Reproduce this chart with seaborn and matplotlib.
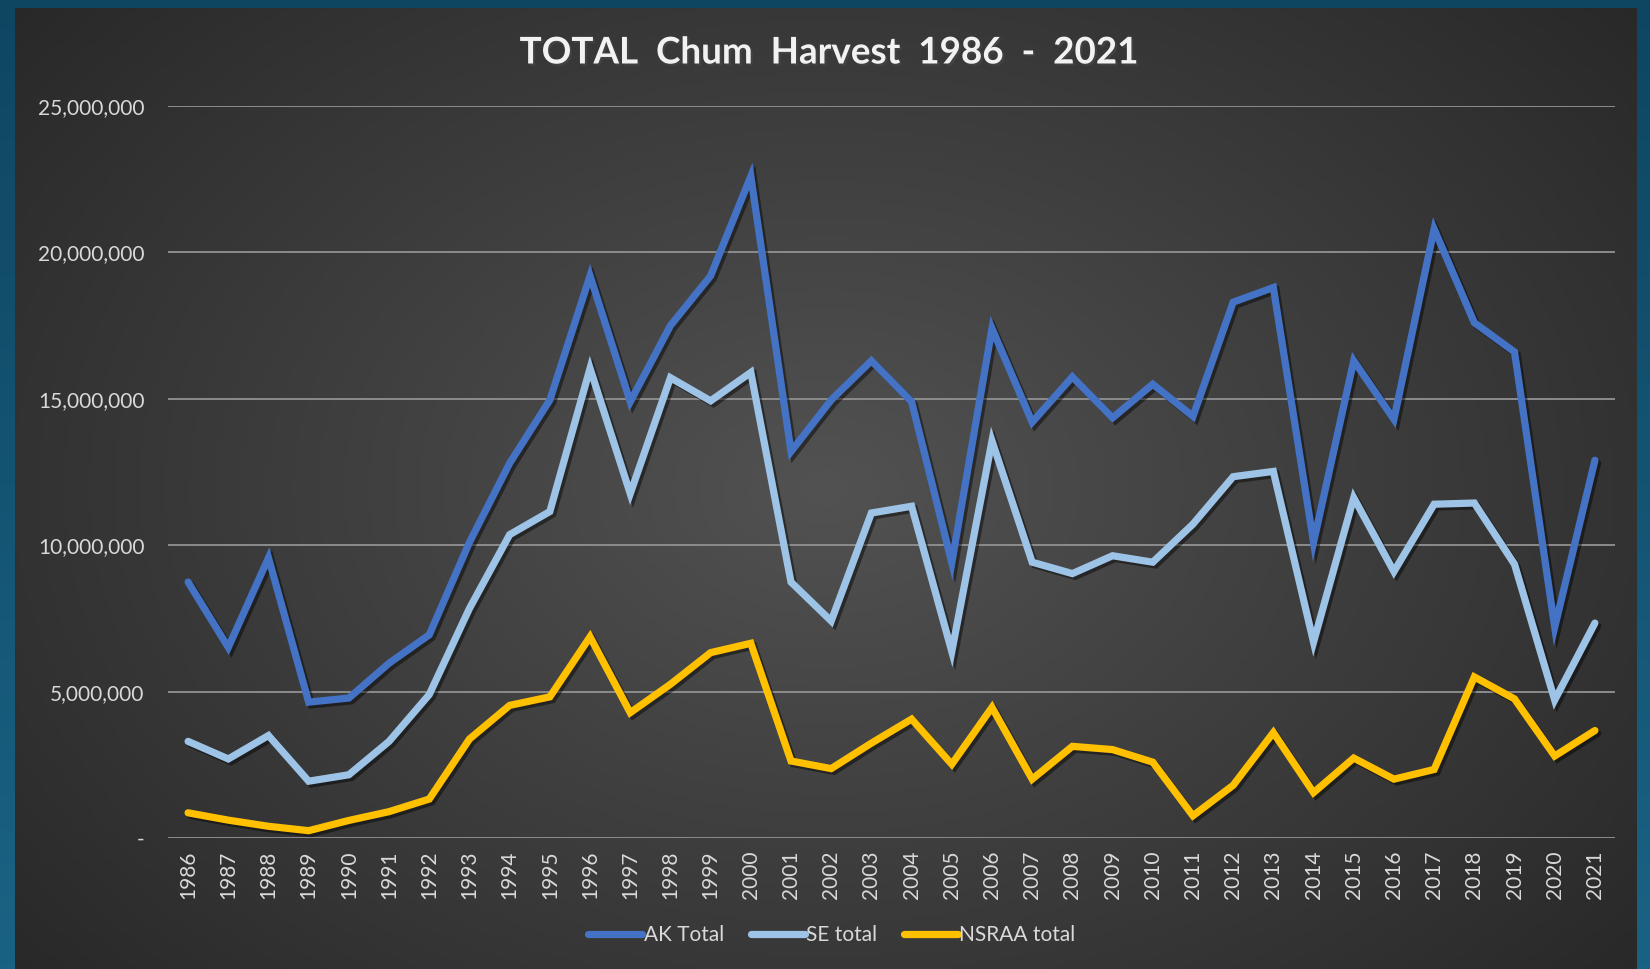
import numpy as np
import pandas as pd
import seaborn as sns
import matplotlib.pyplot as plt
import matplotlib.patheffects as pe
from matplotlib.lines import Line2D
from matplotlib.ticker import FuncFormatter

# data
years = list(range(1986, 2022))
ak_total = [8.74, 6.51, 9.57, 4.64, 4.78, 5.97, 6.94, 10.1, 12.8, 14.96,
            19.2, 14.9, 17.5, 19.2, 22.6, 13.2, 14.96, 16.3, 14.9, 9.4,
            17.4, 14.2, 15.75, 14.35, 15.5, 14.4, 18.3, 18.8, 10.1, 16.3,
            14.3, 20.8, 17.6, 16.6, 7.2, 12.9]
se_total = [3.3, 2.7, 3.5, 1.94, 2.16, 3.3, 4.9, 7.84, 10.36, 11.15,
            16.04, 11.76, 15.72, 14.93, 15.9, 8.74, 7.41, 11.1, 11.33, 6.37,
            13.56, 9.42, 9.03, 9.64, 9.42, 10.72, 12.34, 12.52, 6.69, 11.62,
            9.1, 11.4, 11.44, 9.35, 4.71, 7.34]
nsraa_total = [0.86, 0.61, 0.4, 0.25, 0.6, 0.9, 1.33, 3.38, 4.53, 4.82,
               6.87, 4.28, 5.25, 6.33, 6.65, 2.63, 2.37, 3.24, 4.06, 2.52,
               4.46, 2.01, 3.13, 3.02, 2.59, 0.76, 1.8, 3.6, 1.55, 2.73,
               2.01, 2.34, 5.5, 4.75, 2.8, 3.67]
series_names = ["AK Total", "SE total", "NSRAA total"]
colors = ["#4472C4", "#9DC3E6", "#FFC000"]

df = pd.DataFrame({"Year": years, "AK Total": ak_total,
                   "SE total": se_total, "NSRAA total": nsraa_total})
long = df.melt(id_vars="Year", var_name="Series", value_name="Harvest")
long["Harvest"] = long["Harvest"] * 1e6

sns.set_theme(style="white")
plt.rcParams["font.family"] = ["Lato", "DejaVu Sans"]

fig = plt.figure(figsize=(16.5, 9.69), dpi=100)

# teal outer background
bg = fig.add_axes([0, 0, 1, 1])
bg.axis("off")
g = np.linspace(0, 1, 200).reshape(-1, 1)
top_c = np.array([14, 70, 98]) / 255
bot_c = np.array([26, 98, 132]) / 255
bg.imshow(top_c + g[..., None] * (bot_c - top_c), aspect="auto",
          extent=[0, 1, 0, 1], origin="upper")
bg.set_xlim(0, 1)
bg.set_ylim(0, 1)

# dark panel with radial gradient
panel = fig.add_axes([15 / 1650, 0, (1637 - 15) / 1650, 1 - 8 / 969])
panel.axis("off")
xx, yy = np.meshgrid(np.linspace(-1, 1, 400), np.linspace(-1, 1, 250))
r = np.clip(np.sqrt((xx * 0.9) ** 2 + (yy * 0.75) ** 2), 0, 1.3) / 1.3
inner = np.array([82, 82, 82]) / 255
outer = np.array([36, 36, 36]) / 255
panel.imshow(inner + r[..., None] * (outer - inner), aspect="auto",
             extent=[0, 1, 0, 1])

ax = fig.add_axes([168 / 1650, 131 / 969, 1447 / 1650, 732 / 969])
ax.set_facecolor("none")
sns.lineplot(data=long, x="Year", y="Harvest", hue="Series",
             hue_order=series_names, palette=colors, linewidth=5.2,
             ax=ax, legend=False)
for line in ax.lines:
    line.set_path_effects([pe.SimpleLineShadow(offset=(2, -2), shadow_color="black", alpha=0.45),
                           pe.Normal()])
    line.set_solid_joinstyle("miter")

ax.set_xlim(1985.5, 2021.5)
ax.set_ylim(0, 25e6)
ax.set_xticks(years)
ax.set_xticklabels([str(y) for y in years], rotation=90)
ax.set_yticks(np.arange(0, 25e6 + 1, 5e6))
ax.yaxis.set_major_formatter(FuncFormatter(lambda v, p: "-" if v == 0 else f"{v:,.0f}"))
ax.grid(axis="y", color="#8c8c8c", linewidth=1.4)
ax.grid(axis="x", visible=False)
for s in ax.spines.values():
    s.set_visible(False)
ax.tick_params(axis="both", colors="#d9d9d9", labelsize=15, length=0)
ax.tick_params(axis="y", pad=17)
ax.tick_params(axis="x", pad=9)
ax.set_xlabel("")
ax.set_ylabel("")

handles = [Line2D([], [], color=c, linewidth=5.2, solid_capstyle="round") for c in colors]
leg = fig.legend(handles, series_names, loc="center", bbox_to_anchor=(832 / 1650, 1 - 935 / 969),
                 ncol=3, frameon=False, handlelength=2.6, handletextpad=0.05,
                 columnspacing=1.3, fontsize=15)
for t in leg.get_texts():
    t.set_color("#d9d9d9")

fig.text(828 / 1650, 1 - 53 / 969, "TOTAL  Chum  Harvest  1986  -  2021",
         ha="center", va="center", fontsize=26.5, fontweight="bold", color="#f2f2f2",
         path_effects=[pe.withSimplePatchShadow(offset=(1.5, -1.5), alpha=0.6)])

fig.savefig("out.png", dpi=100)
